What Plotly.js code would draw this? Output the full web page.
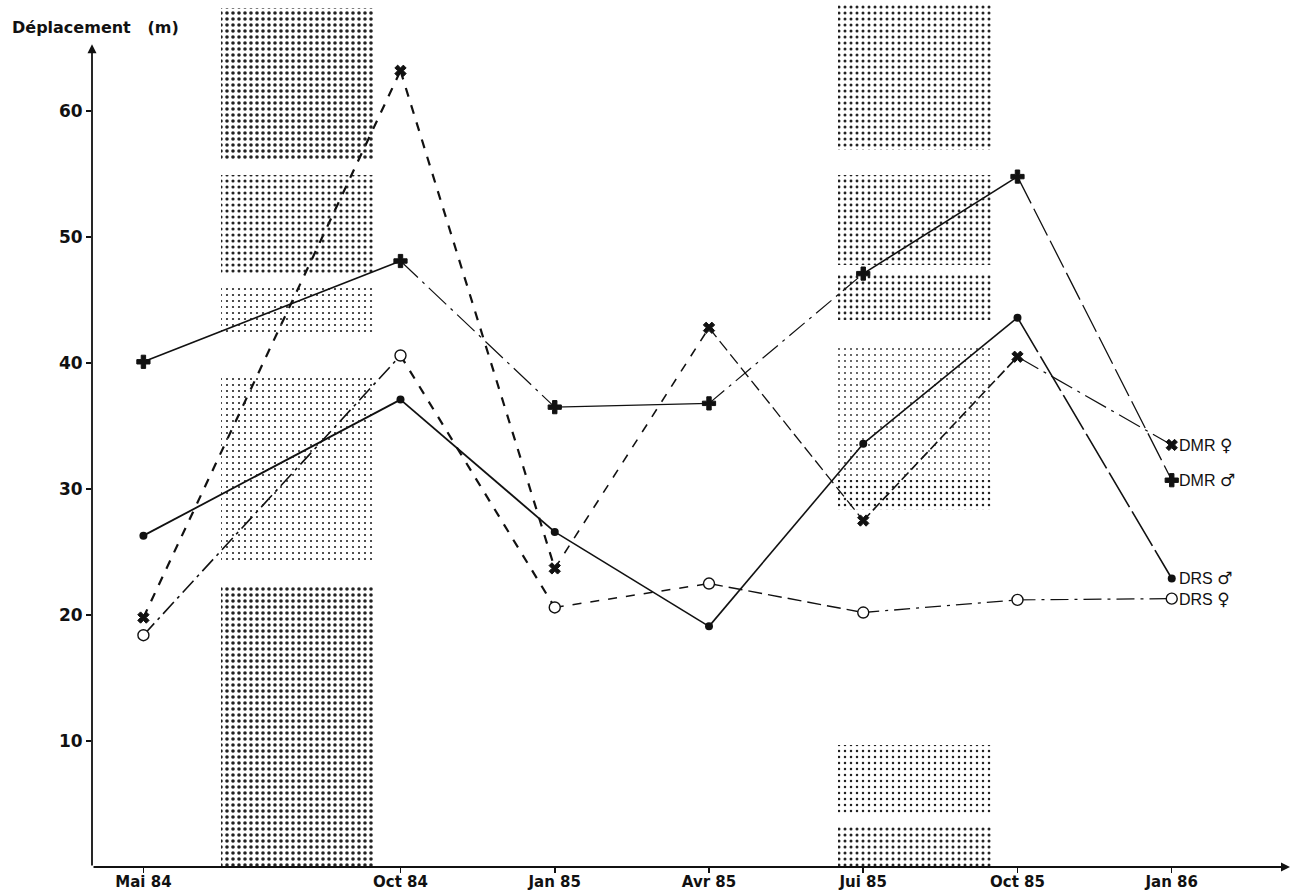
<!DOCTYPE html>
<html>
<head>
<meta charset="utf-8">
<script src="https://cdn.plot.ly/plotly-3.0.1.min.js"></script>
<style>html,body{margin:0;padding:0;background:#fff;}#chart{width:1303px;height:894px;}</style>
</head>
<body>
<div id="chart"></div>
<script>
// ---- data ----
// x positions in months since May 1984
const monthIndex = [0, 5, 8, 11, 14, 17, 20];
const tickLabels = ["Mai 84", "Oct 84", "Jan 85", "Avr 85", "Jui 85", "Oct 85", "Jan 86"];
const yTicks = [10, 20, 30, 40, 50, 60];

const dmrFemale = [19.8, 63.2, 23.7, 42.8, 27.5, 40.5, 33.5];
const dmrMale   = [40.1, 48.1, 36.5, 36.8, 47.1, 54.8, 30.7];
const drsMale   = [26.3, 37.1, 26.6, 19.1, 33.6, 43.6, 22.9];
const drsFemale = [18.4, 40.6, 20.6, 22.5, 20.2, 21.2, 21.3];

const seriesNames = ["DMR", "DMR", "DRS", "DRS"];
const seriesSex   = ["♀", "♂", "♂", "♀"];

// shaded seasonal bands (month centre, bottom, top, density)
const bandCenter  = [3, 3, 3, 3, 3, 15, 15, 15, 15, 15, 15, 15];
const bandBottom  = [0, 24.4, 42.2, 47.0, 56.1, 0, 4.1, 28.3, 43.4, 47.8, 56.9, 30.7];
const bandTop     = [22.4, 39.0, 46.2, 54.9, 68.2, 3.3, 9.7, 30.7, 47.0, 54.9, 68.4, 41.4];
const bandDensity = [0.28, 0.1, 0.11, 0.22, 0.28, 0.2, 0.14, 0.13, 0.17, 0.18, 0.2, 0.07];

// ---- styles ----
const FONT = "Liberation Sans, Arial, Helvetica, sans-serif";
const BOLD = "DejaVu Sans, Liberation Sans, Arial, sans-serif";
const styles = [
  {values: dmrFemale, symbol: "x", size: 10, fill: "#111", line: 1,
   segs: [["dash",2.2],["dash",2.2],["dash",1.6],["12px,5px",1.3],["10px,4px",1.6],["24px,6px,3px,6px",1.2]]},
  {values: dmrMale, symbol: "cross", size: 11, fill: "#111", line: 1,
   segs: [["solid",1.6],["24px,6px,3px,6px",1.2],["solid",1.3],["20px,6px,3px,6px",1.2],["solid",1.6],["30px,6px",1.3]]},
  {values: drsMale, symbol: "circle", size: 8, fill: "#111", line: 0,
   segs: [["solid",1.8],["solid",1.8],["solid",1.6],["solid",1.6],["solid",1.6],["40px,5px",1.6]]},
  {values: drsFemale, symbol: "circle", size: 11, fill: "white", line: 1.4,
   segs: [["16px,5px,3px,5px",1.6],["dash",2.2],["dash",1.5],["14px,6px",1.4],["16px,6px,3px,6px",1.3],["18px,6px,3px,6px",1.2]]}
];

const traces = [];
// bands
traces.push({
  type: "bar",
  x: bandCenter,
  base: bandBottom,
  y: bandTop.map((t, i) => t - bandBottom[i]),
  width: 3,
  marker: {
    color: "white",
    line: {width: 0},
    pattern: {shape: ".", fgcolor: "#222", bgcolor: "white", size: 6, solidity: bandDensity}
  },
  hoverinfo: "skip",
  showlegend: false
});

styles.forEach((s, k) => {
  for (let i = 0; i < monthIndex.length - 1; i++) {
    traces.push({
      type: "scatter", mode: "lines",
      x: [monthIndex[i], monthIndex[i + 1]],
      y: [s.values[i], s.values[i + 1]],
      line: {color: "#111", width: s.segs[i][1], dash: s.segs[i][0]},
      hoverinfo: "skip", showlegend: false
    });
  }
});
styles.forEach((s, k) => {
  traces.push({
    type: "scatter", mode: "markers",
    x: monthIndex, y: s.values,
    marker: {symbol: s.symbol, size: s.size, color: s.fill,
             line: {color: "#111", width: s.line}},
    name: seriesNames[k] + " " + seriesSex[k], hoverinfo: "skip", showlegend: false
  });
});

const annotations = [];
// series labels next to last point
styles.forEach((s, k) => {
  annotations.push({
    x: monthIndex[monthIndex.length - 1], y: s.values[s.values.length - 1],
    xref: "x", yref: "y",
    text: seriesNames[k] + " <span style='font-family:DejaVu Sans;font-size:17px'>" + seriesSex[k] + "</span>",
    showarrow: false,
    xanchor: "left", xshift: 5, yshift: 0,
    font: {family: FONT, size: 16, color: "#111"}
  });
});
// axis arrows
annotations.push({x: -1, y: 65.3, ax: -1, ay: 0, xref: "x", yref: "y", axref: "x", ayref: "y",
  text: "", showarrow: true, arrowhead: 2, arrowsize: 1, arrowwidth: 1.8, arrowcolor: "#111"});
annotations.push({x: 22.3, y: 0, ax: -1, ay: 0, xref: "x", yref: "y", axref: "x", ayref: "y",
  text: "", showarrow: true, arrowhead: 2, arrowsize: 1, arrowwidth: 1.8, arrowcolor: "#111"});
// y title
annotations.push({x: -0.0684, y: 66.6, xref: "paper", yref: "y", xanchor: "left", yanchor: "middle",
  text: "<b>Déplacement   (m)</b>", showarrow: false, font: {family: BOLD, size: 16, color: "#111"}});

const layout = {
  width: 1303, height: 894,
  margin: {l: 92, r: 13, t: 4, b: 27},
  paper_bgcolor: "white", plot_bgcolor: "white",
  showlegend: false,
  barmode: "overlay", bargap: 0,
  xaxis: {
    range: [-1, 22.3], showgrid: false, zeroline: false, showline: false,
    tickmode: "array", tickvals: monthIndex, ticktext: tickLabels,
    ticks: "outside", ticklen: 5, tickwidth: 1.5, tickcolor: "#111",
    ticklabelstandoff: -4,
    tickfont: {family: BOLD, size: 15, color: "#111", weight: "bold"}
  },
  yaxis: {
    range: [0, 68.5], showgrid: false, zeroline: false, showline: false,
    tickmode: "array", tickvals: yTicks, ticktext: yTicks.map(String),
    ticks: "outside", ticklen: 5, tickwidth: 1.5, tickcolor: "#111",
    tickfont: {family: BOLD, size: 17, color: "#111", weight: "bold"}
  },
  annotations: annotations
};

Plotly.newPlot("chart", traces, layout, {staticPlot: true, displayModeBar: false});
</script>
</body>
</html>
